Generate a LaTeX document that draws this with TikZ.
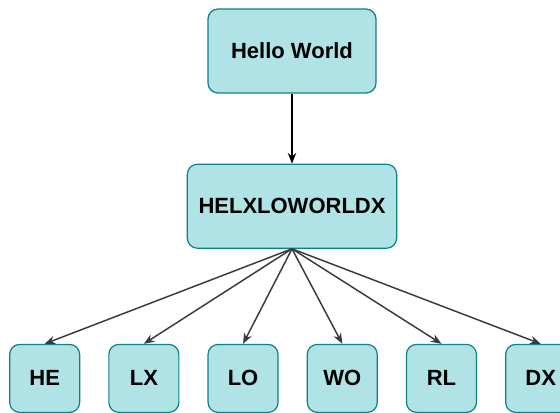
\documentclass[tikz,border=0pt]{standalone}
\usepackage{fontspec}
\setmainfont{Liberation Sans}
\usetikzlibrary{arrows.meta,positioning}
\definecolor{boxfill}{HTML}{B0E3E6}
\definecolor{boxline}{HTML}{0E8088}
\definecolor{wire}{HTML}{3A3A3A}

\begin{document}
\begin{tikzpicture}[
  box/.style={draw=boxline,fill=boxfill,line width=0.9pt,rounded corners=7.5pt,
    align=center,font=\fontsize{16.5}{19}\selectfont\bfseries,inner sep=0pt},
  leaf/.style={box,minimum width=52.5pt,minimum height=51pt},
  every path/.style={-{Stealth[length=2.8mm,width=2.2mm]},line width=1.1pt}
]
\useasboundingbox (-219pt,38.25pt) rectangle (201pt,-270.75pt);
\node[box,minimum width=126pt,minimum height=63pt] (hello) at (0,0) {Hello World};
\node[box,minimum width=157pt,minimum height=63pt,below=52.5pt of hello] (mix) {HELXLOWORLDX};
\node[leaf,below left=71.25pt and 10pt of mix.south,anchor=north east] (lo) {LO};
\node[leaf,left=21pt of lo] (lx) {LX};
\node[leaf,left=21pt of lx] (he) {HE};
\node[leaf,right=21pt of lo] (wo) {WO};
\node[leaf,right=21pt of wo] (rl) {RL};
\node[leaf,right=21pt of rl] (dx) {DX};
\draw[black] (hello) -- (mix);
\draw[wire] (mix.south) -- (he.north);
\draw[wire] (mix.south) -- (lx.north);
\draw[wire] (mix.south) -- (lo.north);
\draw[wire] (mix.south) -- (wo.north);
\draw[wire] (mix.south) -- (rl.north);
\draw[wire] (mix.south) -- (dx.north);
\end{tikzpicture}
\end{document}
